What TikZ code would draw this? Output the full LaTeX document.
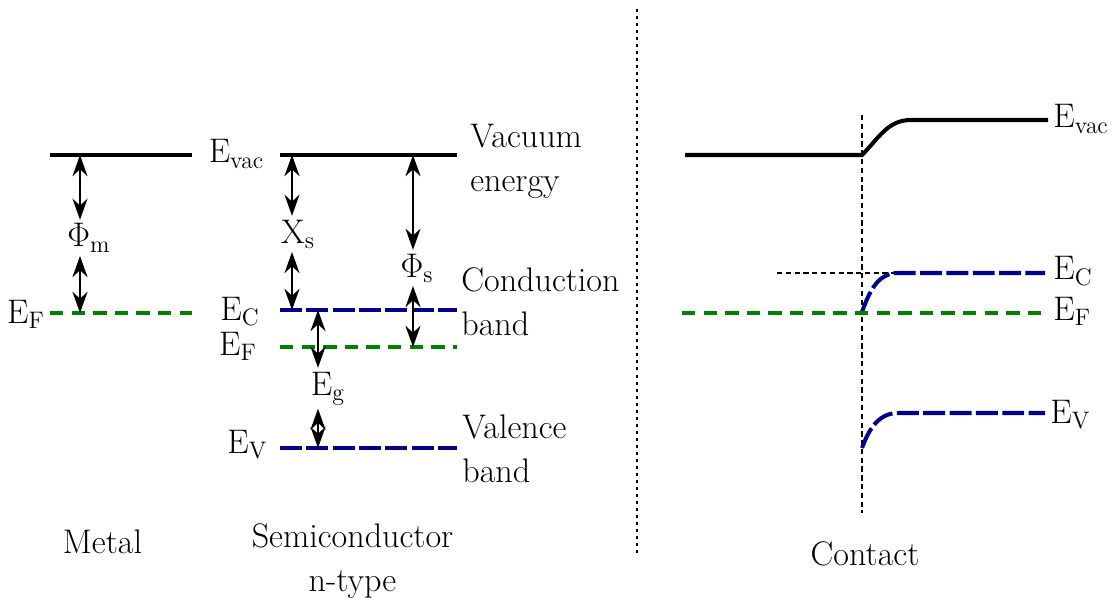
\RequirePackage{fix-cm}
\documentclass[tikz,border=0pt]{standalone}
\usepackage{tikz}
\usetikzlibrary{arrows.meta}
\definecolor{BandBlue}{RGB}{0,0,140}
\definecolor{FermiGreen}{RGB}{0,130,0}
\tikzset{
  vac/.style={line width=2.3pt},
  band/.style={BandBlue,line width=2.3pt,dash pattern=on 12.5pt off 2.5pt},
  fermi/.style={FermiGreen,line width=2.3pt,dash pattern=on 7.6pt off 4.7pt},
  dbl/.style={line width=1.7pt,{Stealth[length=12pt,width=8.5pt]}-{Stealth[length=12pt,width=8.5pt]}},
  lvl/.style={font=\fontsize{19.4}{23}\selectfont,inner sep=2pt},
  guide/.style={line width=.8pt,dash pattern=on 3pt off 2pt},
  txt/.style={font={\fontsize{19.4}{25}\selectfont},align=left,inner sep=0pt}
}

\begin{document}
\begin{tikzpicture}
  \useasboundingbox (0,0) rectangle (22.24,11.94);
  \draw[vac] (1,8.84)--(3.84,8.84);
  \draw[fermi] (1,5.68)--(3.84,5.68);
  \coordinate (mvac) at (1.6,8.84);
  \coordinate (mef) at (1.6,5.68);
  \node[lvl,anchor=base east] at (0.97,5.48) {$\mathrm{E_F}$};
  \node[lvl,anchor=base] (phim) at (1.78,7.0) {$\Phi_\mathrm{m}$};
  \draw[dbl] (mvac)--(mvac |- phim.north);
  \draw[dbl] (mvac |- phim.south)--(mef);
  \node[txt,anchor=base] at (2.05,0.88) {Metal};

  \draw[vac] (5.6,8.84)--(9.14,8.84);
  \draw[band] (5.6,5.74)--(9.14,5.74);
  \draw[fermi] (5.6,5.0)--(9.14,5.0);
  \draw[band] (5.6,2.98)--(9.14,2.98);
  \node[lvl,anchor=base] at (4.73,8.68) {$\mathrm{E_{vac}}$};
  \node[lvl,anchor=base east] at (5.27,5.54) {$\mathrm{E_C}$};
  \node[lvl,anchor=base east] at (5.21,4.84) {$\mathrm{E_F}$};
  \node[lvl,anchor=base east] at (5.43,2.88) {$\mathrm{E_V}$};
  \coordinate (xtop) at (5.84,8.84);
  \coordinate (xbot) at (5.84,5.74);
  \coordinate (ftop) at (8.26,8.84);
  \coordinate (fbot) at (8.26,5.0);
  \coordinate (gtop) at (6.36,5.74);
  \coordinate (gbot) at (6.36,2.98);
  \node[lvl,anchor=base] (xs) at (5.96,7.08) {$\mathrm{X_s}$};
  \node[lvl,anchor=base] (phis) at (8.34,6.4) {$\Phi_\mathrm{s}$};
  \node[lvl,anchor=base] (eg) at (6.56,4.04) {$\mathrm{E_g}$};
  \draw[dbl] (xtop)--(xtop |- xs.north);
  \draw[dbl] (xtop |- xs.south)--(xbot);
  \draw[dbl] (ftop)--(ftop |- phis.north);
  \draw[dbl] (ftop |- phis.south)--(fbot);
  \draw[dbl] (gtop)--(gtop |- eg.north);
  \draw[dbl] (gtop |- eg.south)--(gbot);
  \node[txt,anchor=west] at (9.4,8.72) {Vacuum\\energy};
  \node[txt,anchor=west] at (9.22,5.9) {Conduction\\band};
  \node[txt,anchor=west] at (9.24,2.96) {Valence\\band};
  \node[txt,align=center,anchor=north] at (7.05,1.48) {Semiconductor\\n-type};

  \draw[line width=1.7pt,dash pattern=on 1.7pt off 2.3pt] (12.74,11.76)--(12.74,0.88);

  \draw[guide] (17.24,9.64)--(17.24,1.68);
  \draw[guide] (15.54,6.48)--(17.94,6.48);
  \draw[vac] (13.7,8.84)--(17.24,8.84) to[out=45,in=180] (18.22,9.54)--(20.96,9.54);
  \draw[band] (17.24,5.7) to[out=70,in=180] (17.96,6.48)--(20.9,6.48);
  \draw[fermi] (13.64,5.68)--(20.96,5.68);
  \draw[band] (17.24,2.98) to[out=70,in=180] (17.96,3.68)--(20.9,3.68);
  \node[lvl,anchor=base west] at (20.99,9.38) {$\mathrm{E_{vac}}$};
  \node[lvl,anchor=base west] at (20.99,6.34) {$\mathrm{E_C}$};
  \node[lvl,anchor=base west] at (20.99,5.54) {$\mathrm{E_F}$};
  \node[lvl,anchor=base west] at (20.93,3.48) {$\mathrm{E_V}$};
  \node[txt,anchor=base] at (17.3,0.64) {Contact};
\end{tikzpicture}
\end{document}
